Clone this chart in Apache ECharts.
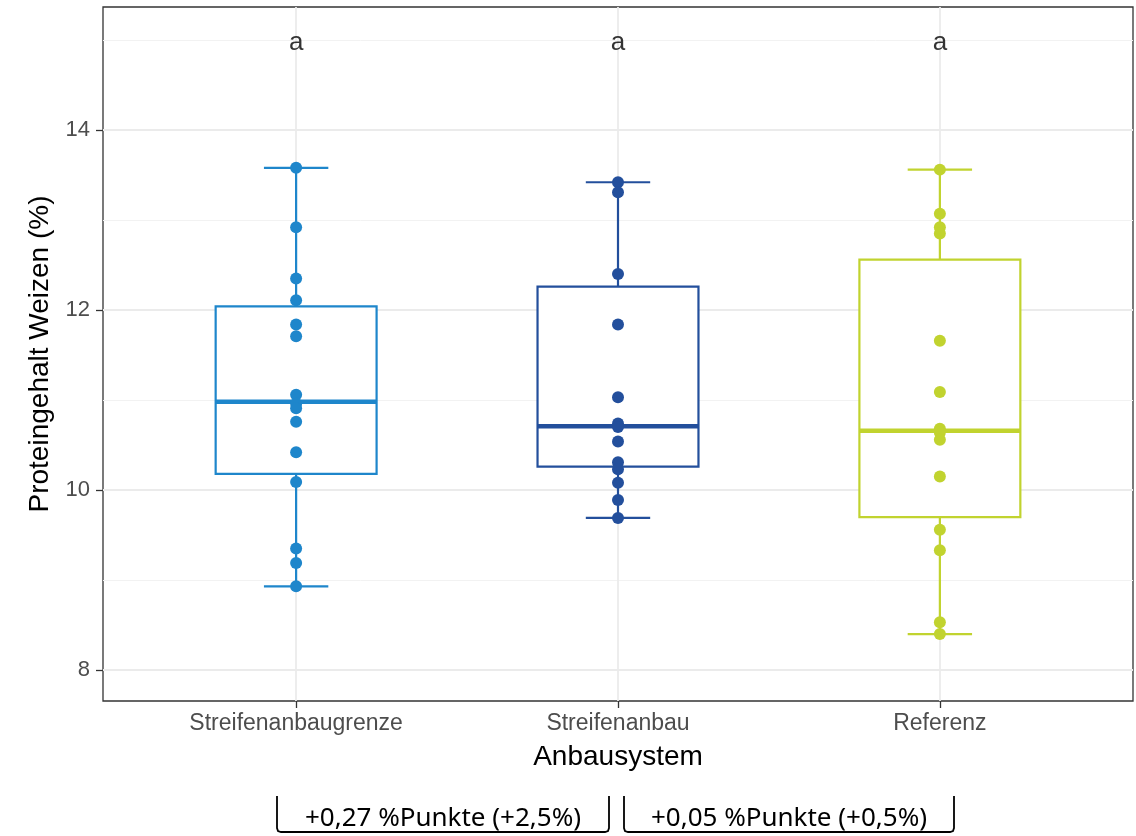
<!DOCTYPE html>
<html>
<head>
<meta charset="utf-8">
<script src="https://cdn.jsdelivr.net/npm/echarts@6/dist/echarts.min.js"></script>
<style>
  html,body{margin:0;padding:0;background:#fff}
  #main{width:1136px;height:836px}
</style>
</head>
<body>
<div id="main"></div>
<script>
// Anbausystem (x) und Proteingehalt (y)
const categories = ['Streifenanbaugrenze', 'Streifenanbau', 'Referenz']
const colors = ['#1E86CB', '#234F9C', '#C1D32F']

// [min, q1, median, q3, max]
const boxStats = [
  [8.93, 10.18, 10.98, 12.04, 13.58],
  [9.69, 10.26, 10.71, 12.26, 13.42],
  [8.40, 9.70, 10.66, 12.56, 13.56]
]

// Einzelwerte
const pointsGrenze = [13.58, 12.92, 12.35, 12.11, 11.84, 11.71, 11.06, 10.96, 10.91, 10.76, 10.42, 10.09, 9.35, 9.19, 8.93]
const pointsAnbau = [13.42, 13.31, 12.40, 11.84, 11.03, 10.74, 10.70, 10.54, 10.31, 10.23, 10.08, 9.89, 9.69]
const pointsReferenz = [13.56, 13.07, 12.92, 12.85, 11.66, 11.09, 10.68, 10.64, 10.56, 10.15, 9.56, 9.33, 8.53, 8.40]
const pointGroups = [pointsGrenze, pointsAnbau, pointsReferenz]

// Buchstaben (Signifikanz)
const letters = ['a', 'a', 'a']
const letterY = 14.97

// Achsen
const yTicks = [8, 10, 12, 14]
const yMinor = [9, 11, 13, 15]
const yMin = 7.656
const yMax = 15.367

// Unterschiede unten
const diffLabels = ['+0,27 %Punkte (+2,5%)', '+0,05 %Punkte (+0,5%)']

const chart = echarts.init(document.getElementById('main'))

function renderBox(params, api) {
  const x = api.value(0)
  const c = colors[params.dataIndex]
  const half = api.size([0.25, 0])[0]
  const cap = api.size([0.1, 0])[0]
  const lo = api.coord([x, api.value(1)])
  const q1 = api.coord([x, api.value(2)])
  const med = api.coord([x, api.value(3)])
  const q3 = api.coord([x, api.value(4)])
  const hi = api.coord([x, api.value(5)])
  const cx = lo[0]
  const ls = { stroke: c, lineWidth: 2.2 }
  return {
    type: 'group',
    children: [
      { type: 'line', shape: { x1: cx, y1: hi[1], x2: cx, y2: q3[1] }, style: ls },
      { type: 'line', shape: { x1: cx, y1: q1[1], x2: cx, y2: lo[1] }, style: ls },
      { type: 'line', shape: { x1: cx - cap, y1: hi[1], x2: cx + cap, y2: hi[1] }, style: ls },
      { type: 'line', shape: { x1: cx - cap, y1: lo[1], x2: cx + cap, y2: lo[1] }, style: ls },
      { type: 'rect', shape: { x: cx - half, y: q3[1], width: half * 2, height: q1[1] - q3[1] },
        style: { fill: '#fff', stroke: c, lineWidth: 2.2 } },
      { type: 'line', shape: { x1: cx - half, y1: med[1], x2: cx + half, y2: med[1] },
        style: { stroke: c, lineWidth: 4.5 } }
    ]
  }
}

const scatterSeries = pointGroups.map((pts, i) => ({
  type: 'scatter',
  z: 4,
  symbolSize: 12,
  itemStyle: { color: colors[i], opacity: 1 },
  data: pts.map(v => [i + 1, v]),
  silent: true
}))

const gridLineSeries = {
  type: 'line',
  data: [],
  z: 0,
  silent: true,
  markLine: {
    z: 0,
    silent: true,
    symbol: 'none',
    label: { show: false },
    animation: false,
    data: [
      ...yMinor.map(v => ({ yAxis: v, lineStyle: { color: '#F2F2F2', width: 1, type: 'solid' } })),
      ...yTicks.map(v => ({ yAxis: v, lineStyle: { color: '#EBEBEB', width: 1.8, type: 'solid' } })),
      ...categories.map((c, i) => ({ xAxis: i + 1, lineStyle: { color: '#EBEBEB', width: 1.8, type: 'solid' } }))
    ]
  }
}

const letterSeries = {
  type: 'scatter',
  z: 5,
  symbolSize: 1,
  itemStyle: { color: 'transparent' },
  silent: true,
  data: letters.map((l, i) => [i + 1, letterY, l]),
  label: {
    show: true,
    position: 'inside',
    formatter: p => p.data[2],
    color: '#000',
    fontSize: 26,
    fontFamily: 'Liberation Sans'
  }
}

function bracket(x1, x2, y1, y2) {
  const r = 4
  return {
    type: 'polyline',
    shape: { points: [[x1, y1], [x1, y2 - r], [x1 + 1, y2 - 1], [x1 + r, y2], [x2 - r, y2], [x2 - 1, y2 - 1], [x2, y2 - r], [x2, y1]] },
    style: { stroke: '#000', lineWidth: 1.8, fill: null }
  }
}

chart.setOption({
  animation: false,
  backgroundColor: '#fff',
  grid: {
    left: 103, right: 3, top: 7, bottom: 135,
    show: true, borderColor: '#333', borderWidth: 1.3, backgroundColor: 'transparent'
  },
  xAxis: {
    type: 'value',
    min: 0.4,
    max: 3.6,
    name: 'Anbausystem',
    nameLocation: 'middle',
    nameGap: 42,
    nameTextStyle: { fontSize: 28, color: '#000', fontFamily: 'Liberation Sans' },
    axisLine: { show: false },
    splitLine: { show: false },
    axisTick: { show: true, length: 7, lineStyle: { color: '#333', width: 1.3 }, customValues: [1, 2, 3] },
    axisLabel: {
      customValues: [1, 2, 3],
      formatter: v => categories[Math.round(v) - 1] || '',
      fontSize: 23, color: '#4D4D4D', fontFamily: 'Liberation Sans', margin: 11
    }
  },
  yAxis: {
    type: 'value',
    min: yMin,
    max: yMax,
    name: 'Proteingehalt Weizen (%)',
    nameLocation: 'middle',
    nameGap: 49,
    nameTextStyle: { fontSize: 28, color: '#000', fontFamily: 'Liberation Sans' },
    axisLine: { show: false },
    splitLine: { show: false },
    axisTick: { show: true, length: 7, lineStyle: { color: '#333', width: 1.3 }, customValues: yTicks },
    axisLabel: {
      customValues: yTicks,
      fontSize: 22, color: '#4D4D4D', fontFamily: 'Liberation Sans', margin: 13
    }
  },
  series: [
    gridLineSeries,
    {
      type: 'custom',
      z: 2,
      silent: true,
      renderItem: renderBox,
      data: boxStats.map((s, i) => [i + 1, ...s])
    },
    ...scatterSeries,
    letterSeries
  ],
  graphic: [
    bracket(277, 609, 796, 832),
    bracket(624, 954, 796, 832),
    { type: 'text', x: 443, y: 819, style: { text: diffLabels[0], fontSize: 26, fontFamily: 'Noto Sans', fill: '#000', align: 'center', verticalAlign: 'middle' } },
    { type: 'text', x: 789, y: 819, style: { text: diffLabels[1], fontSize: 26, fontFamily: 'Noto Sans', fill: '#000', align: 'center', verticalAlign: 'middle' } }
  ]
})
</script>
</body>
</html>
